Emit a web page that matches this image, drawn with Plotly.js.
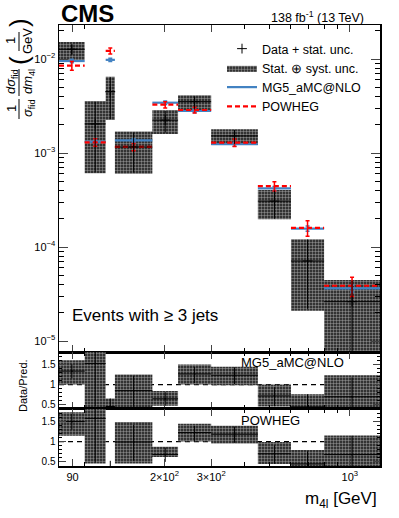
<!DOCTYPE html>
<html>
<head>
<meta charset="utf-8">
<script src="https://cdn.plot.ly/plotly-3.0.1.min.js"></script>
<style>
  html, body { margin: 0; padding: 0; background: #fff; }
  #plot { width: 399px; height: 518px; }
</style>
</head>
<body>
<div id="plot"></div>
<script>
// m4l bin edges (GeV)
const binEdges = [80, 100, 120, 130, 180, 225, 300, 450, 600, 800, 1300];

// normalised differential cross section, events with >= 3 jets
const dataVal = [0.0127, 0.00204, 0.00449, 0.00116, 0.00224, 0.00352, 0.00152, 0.000308, 7.1e-5, 2.62e-5];
const dataStatHi = [0.0143, 0.0035, 0.0064, 0.00165, 0.0028, 0.0040, 0.00176, 0.0004, 0.00012, 4.4e-5];
const dataStatLo = [0.0110, 0.00063, 0.0023, 0.00062, 0.00165, 0.0029, 0.00125, 0.0002, 2.2e-5, 7e-6];
const dataTotHi = [0.0152, 0.00357, 0.00649, 0.00169, 0.00286, 0.00411, 0.00179, 0.000404, 0.000121, 4.45e-5];
const dataTotLo = [0.00976, 0.00061, 0.00224, 0.0006, 0.00159, 0.00286, 0.00122, 0.000197, 2.1e-5, 6e-6];

const mg5Val = [0.00952, 0.00132, 0.0098, 0.00136, 0.00343, 0.0028, 0.00124, 0.00042, 0.000157, 3.63e-5];
const mg5Err = [0.0004, 0.00006, 0.0004, 0.00006, 0.00015, 0.00012, 0.00006, 0.00002, 0.00001, 0.000003];
const powVal = [0.0085, 0.0013, 0.0122, 0.00116, 0.00327, 0.00287, 0.00129, 0.000445, 0.00016, 3.87e-5];
const powErr = [0.0009, 0.00012, 0.0009, 0.0001, 0.00025, 0.0002, 0.00012, 0.00005, 0.00003, 0.000009];

// ratio panels: data / prediction
const rMg5 = [1.33, 1.52, 0.46, 0.85, 0.65, 1.26, 1.23, 0.72, 0.45, 0.70];
const rMg5Lo = [1.0, 0.45, 0.22, 0.45, 0.48, 1.0, 0.98, 0.46, 0.2, 0.15];
const rMg5Hi = [1.6, 2.7, 0.66, 1.245, 0.84, 1.49, 1.44, 1.0, 0.76, 1.23];
const rPow = [1.49, 1.57, 0.37, 0.99, 0.68, 1.22, 1.18, 0.70, 0.45, 0.68];
const rPowLo = [1.14, 0.46, 0.18, 0.46, 0.62, 1.0, 0.95, 0.45, 0.2, 0.15];
const rPowHi = [1.72, 2.7, 0.39, 1.48, 0.87, 1.44, 1.39, 0.99, 0.79, 1.15];

const xTickVals = [90, 200, 300, 1000];
const xTickText = ['90', '2×10<sup>2</sup>', '3×10<sup>2</sup>', '10<sup>3</sup>'];
const yTickVals = [1e-5, 1e-4, 1e-3, 1e-2];
const yTickText = ['10<sup>−5</sup>', '10<sup>−4</sup>', '10<sup>−3</sup>', '10<sup>−2</sup>'];

const FONT = 'Liberation Sans, Arial, Helvetica, sans-serif';
const BLUE = '#4282c2';
const RED = '#ff0000';

const nb = dataVal.length;
const centers = [];
for (let i = 0; i < nb; i++) centers.push(Math.sqrt(binEdges[i] * binEdges[i + 1]));

function boxPath(lo, hi) {
  const xs = [], ys = [];
  for (let i = 0; i < nb; i++) {
    xs.push(binEdges[i], binEdges[i + 1], binEdges[i + 1], binEdges[i], binEdges[i], null);
    ys.push(lo[i], lo[i], hi[i], hi[i], lo[i], null);
  }
  return { xs, ys };
}
function stepPath(v) {
  const xs = [], ys = [];
  for (let i = 0; i < nb; i++) {
    xs.push(binEdges[i], binEdges[i + 1], null);
    ys.push(v[i], v[i], null);
  }
  return { xs, ys };
}

const pattern = { shape: '+', bgcolor: '#333333', fgcolor: '#b4b4b4', size: 3, solidity: 0.25 };
const errXp = centers.map((c, i) => binEdges[i + 1] - c);
const errXm = centers.map((c, i) => c - binEdges[i]);

function boxTrace(lo, hi, xa, ya, show) {
  const b = boxPath(lo, hi);
  return {
    x: b.xs, y: b.ys, xaxis: xa, yaxis: ya, type: 'scatter', mode: 'lines',
    fill: 'toself', fillcolor: '#333333', fillpattern: pattern,
    line: { width: 0, color: '#333333' }, hoverinfo: 'skip',
    name: 'Stat. ⊕ syst. unc.', showlegend: show, legendrank: 2
  };
}
function crossTrace(v, hi, lo, xa, ya, show) {
  return {
    x: centers, y: v, xaxis: xa, yaxis: ya, type: 'scatter', mode: 'markers',
    marker: { symbol: 'cross-thin-open', size: show ? 7 : 1, color: 'black', line: { width: 1, color: 'black' } },
    error_x: { type: 'data', symmetric: false, array: errXp, arrayminus: errXm, width: 0, thickness: 1, color: 'black' },
    error_y: { type: 'data', symmetric: false, array: v.map((d, i) => hi[i] - d), arrayminus: v.map((d, i) => d - lo[i]), width: 0, thickness: 1, color: 'black' },
    name: 'Data + stat. unc.', showlegend: show, legendrank: 1
  };
}

const mg5Step = stepPath(mg5Val);
const powStep = stepPath(powVal);

// stat. error bars on the ratios follow the relative data stat. unc.
const rMg5StatHi = rMg5.map((r, i) => r * dataStatHi[i] / dataVal[i]);
const rMg5StatLo = rMg5.map((r, i) => r * dataStatLo[i] / dataVal[i]);
const rPowStatHi = rPow.map((r, i) => r * dataStatHi[i] / dataVal[i]);
const rPowStatLo = rPow.map((r, i) => r * dataStatLo[i] / dataVal[i]);

const traces = [
  boxTrace(dataTotLo, dataTotHi, 'x', 'y', true),
  {
    x: mg5Step.xs, y: mg5Step.ys, type: 'scatter', mode: 'lines',
    line: { color: BLUE, width: 2.2 }, name: 'MG5_aMC@NLO', legendrank: 3, hoverinfo: 'skip'
  },
  {
    x: centers, y: mg5Val, type: 'scatter', mode: 'markers', marker: { size: 1, color: BLUE },
    error_y: { type: 'data', array: mg5Err, width: 2, thickness: 1.5, color: BLUE }, showlegend: false
  },
  {
    x: powStep.xs, y: powStep.ys, type: 'scatter', mode: 'lines',
    line: { color: RED, width: 2.2, dash: '5px,3px' }, name: 'POWHEG', legendrank: 4, hoverinfo: 'skip'
  },
  {
    x: centers, y: powVal, type: 'scatter', mode: 'markers', marker: { size: 1, color: RED },
    error_y: { type: 'data', array: powErr, width: 2, thickness: 1.5, color: RED }, showlegend: false
  },
  crossTrace(dataVal, dataStatHi, dataStatLo, 'x', 'y', true),
  boxTrace(rMg5Lo, rMg5Hi, 'x2', 'y2', false),
  crossTrace(rMg5, rMg5StatHi, rMg5StatLo, 'x2', 'y2', false),
  boxTrace(rPowLo, rPowHi, 'x3', 'y3', false),
  crossTrace(rPow, rPowStatHi, rPowStatLo, 'x3', 'y3', false)
];

const minorX = [100, 400, 500, 600, 700, 800, 900];
const minorY = [];
[1e-5, 1e-4, 1e-3, 1e-2].forEach(d => { for (let k = 2; k <= 9; k++) minorY.push(k * d); });
const minorR = [0.4, 0.6, 0.7, 0.8, 0.9, 1.1, 1.2, 1.3, 1.4, 1.6, 1.7, 1.8];

const xBase = {
  type: 'log', range: [Math.log10(80), Math.log10(1300)],
  tickvals: xTickVals, ticktext: xTickText, ticks: 'inside', ticklen: 7, tickwidth: 1,
  minor: { tickvals: minorX, ticklen: 4, ticks: 'inside', tickcolor: 'black' },
  showline: true, linecolor: 'black', linewidth: 1.5, mirror: 'allticks',
  showgrid: false, zeroline: false, tickfont: { family: FONT, size: 11, color: 'black' }
};
const yRatio = {
  range: [0.4, 1.8], tickvals: [0.5, 1, 1.5], ticktext: ['0.5', '1', '1.5'],
  ticks: 'inside', ticklen: 7, tickwidth: 1,
  minor: { tickvals: minorR, ticklen: 3, ticks: 'inside', tickcolor: 'black' },
  showline: true, linecolor: 'black', linewidth: 1.5, mirror: 'allticks',
  showgrid: false, zeroline: false, tickfont: { family: FONT, size: 10, color: 'black' }
};

function px2x(px) { return (px - 59) / 321; }
function px2y(py) { return (466 - py) / 441; }

function rot(text, px, py, size) {
  return {
    text: text, xref: 'paper', yref: 'paper', x: px2x(px), y: px2y(py),
    textangle: -90, showarrow: false, xanchor: 'center', yanchor: 'middle',
    font: { family: FONT, size: size || 11, color: 'black' }
  };
}
function fracBar(px, py0, py1) {
  return {
    type: 'line', xref: 'paper', yref: 'paper', x0: px2x(px), x1: px2x(px),
    y0: px2y(py0), y1: px2y(py1), line: { color: 'black', width: 1 }
  };
}

const layout = {
  width: 399, height: 518,
  margin: { l: 59, r: 19, t: 25, b: 52 },
  paper_bgcolor: 'white', plot_bgcolor: 'white',
  font: { family: FONT, color: 'black' },
  showlegend: true,
  legend: {
    x: px2x(222), y: px2y(34), xanchor: 'left', yanchor: 'top',
    bgcolor: 'rgba(0,0,0,0)', font: { family: FONT, size: 12.5, color: 'black' },
    tracegroupgap: 0, itemwidth: 30
  },
  xaxis: Object.assign({}, xBase, { anchor: 'y', showticklabels: false, matches: 'x3' }),
  xaxis2: Object.assign({}, xBase, { anchor: 'y2', showticklabels: false, matches: 'x3' }),
  xaxis3: Object.assign({}, xBase, { anchor: 'y3' }),
  yaxis: {
    domain: [0.2585, 1], type: 'log', range: [-5.117, -1.638],
    tickvals: yTickVals, ticktext: yTickText, ticks: 'inside', ticklen: 9, tickwidth: 1,
    minor: { tickvals: minorY, ticklen: 5, ticks: 'inside', tickcolor: 'black' },
    showline: true, linecolor: 'black', linewidth: 1.5, mirror: 'allticks',
    showgrid: false, zeroline: false, tickfont: { family: FONT, size: 11, color: 'black' }
  },
  yaxis2: Object.assign({}, yRatio, { domain: [0.1293, 0.2585] }),
  yaxis3: Object.assign({}, yRatio, { domain: [0, 0.1293] }),
  shapes: [
    { type: 'line', xref: 'paper', yref: 'y2', x0: 0, x1: 1, y0: 1, y1: 1, layer: 'below', line: { color: 'black', width: 1.2, dash: '5px,4px' } },
    { type: 'line', xref: 'paper', yref: 'y3', x0: 0, x1: 1, y0: 1, y1: 1, layer: 'below', line: { color: 'black', width: 1.2, dash: '5px,4px' } },
    fracBar(19, 32, 51),
    fracBar(19, 69, 96),
    fracBar(19, 99, 119)
  ],
  annotations: [
    { text: '<b>CMS</b>', xref: 'paper', yref: 'paper', x: 0, y: px2y(14), xanchor: 'left', yanchor: 'middle', showarrow: false, font: { family: FONT, size: 24, color: 'black' } },
    { text: '138 fb<sup>-1</sup> (13 TeV)', xref: 'paper', yref: 'paper', x: px2x(366), y: px2y(17), xanchor: 'right', yanchor: 'middle', showarrow: false, font: { family: FONT, size: 12.5, color: 'black' } },
    { text: 'Events with ≥ 3 jets', xref: 'paper', yref: 'paper', x: px2x(70), y: px2y(315), xanchor: 'left', yanchor: 'middle', showarrow: false, font: { family: FONT, size: 17, color: 'black' } },
    { text: 'MG5_aMC@NLO', xref: 'paper', yref: 'paper', x: px2x(239), y: px2y(362), xanchor: 'left', yanchor: 'middle', showarrow: false, font: { family: FONT, size: 13, color: 'black' } },
    { text: 'POWHEG', xref: 'paper', yref: 'paper', x: px2x(239), y: px2y(420), xanchor: 'left', yanchor: 'middle', showarrow: false, font: { family: FONT, size: 13, color: 'black' } },
    { text: 'm<sub>4l</sub> [GeV]', xref: 'paper', yref: 'paper', x: px2x(379), y: px2y(500), xanchor: 'right', yanchor: 'middle', showarrow: false, font: { family: FONT, size: 17, color: 'black' } },
    rot('Data/Pred.', 23, 386, 11),
    rot('1', 11, 109, 13),
    rot('<i>σ</i><sub>fid</sub>', 28, 109, 13),
    rot('<i>dσ</i><sub>fid</sub>', 11, 82, 13),
    rot('<i>dm</i><sub>4l</sub>', 28, 82, 13),
    rot('1', 11, 41, 13),
    rot('GeV', 28, 41, 13),
    rot('(', 19, 61, 26),
    rot(')', 19, 23, 26)
  ]
};

Plotly.newPlot('plot', traces, layout, { staticPlot: true, displayModeBar: false });
</script>
</body>
</html>
